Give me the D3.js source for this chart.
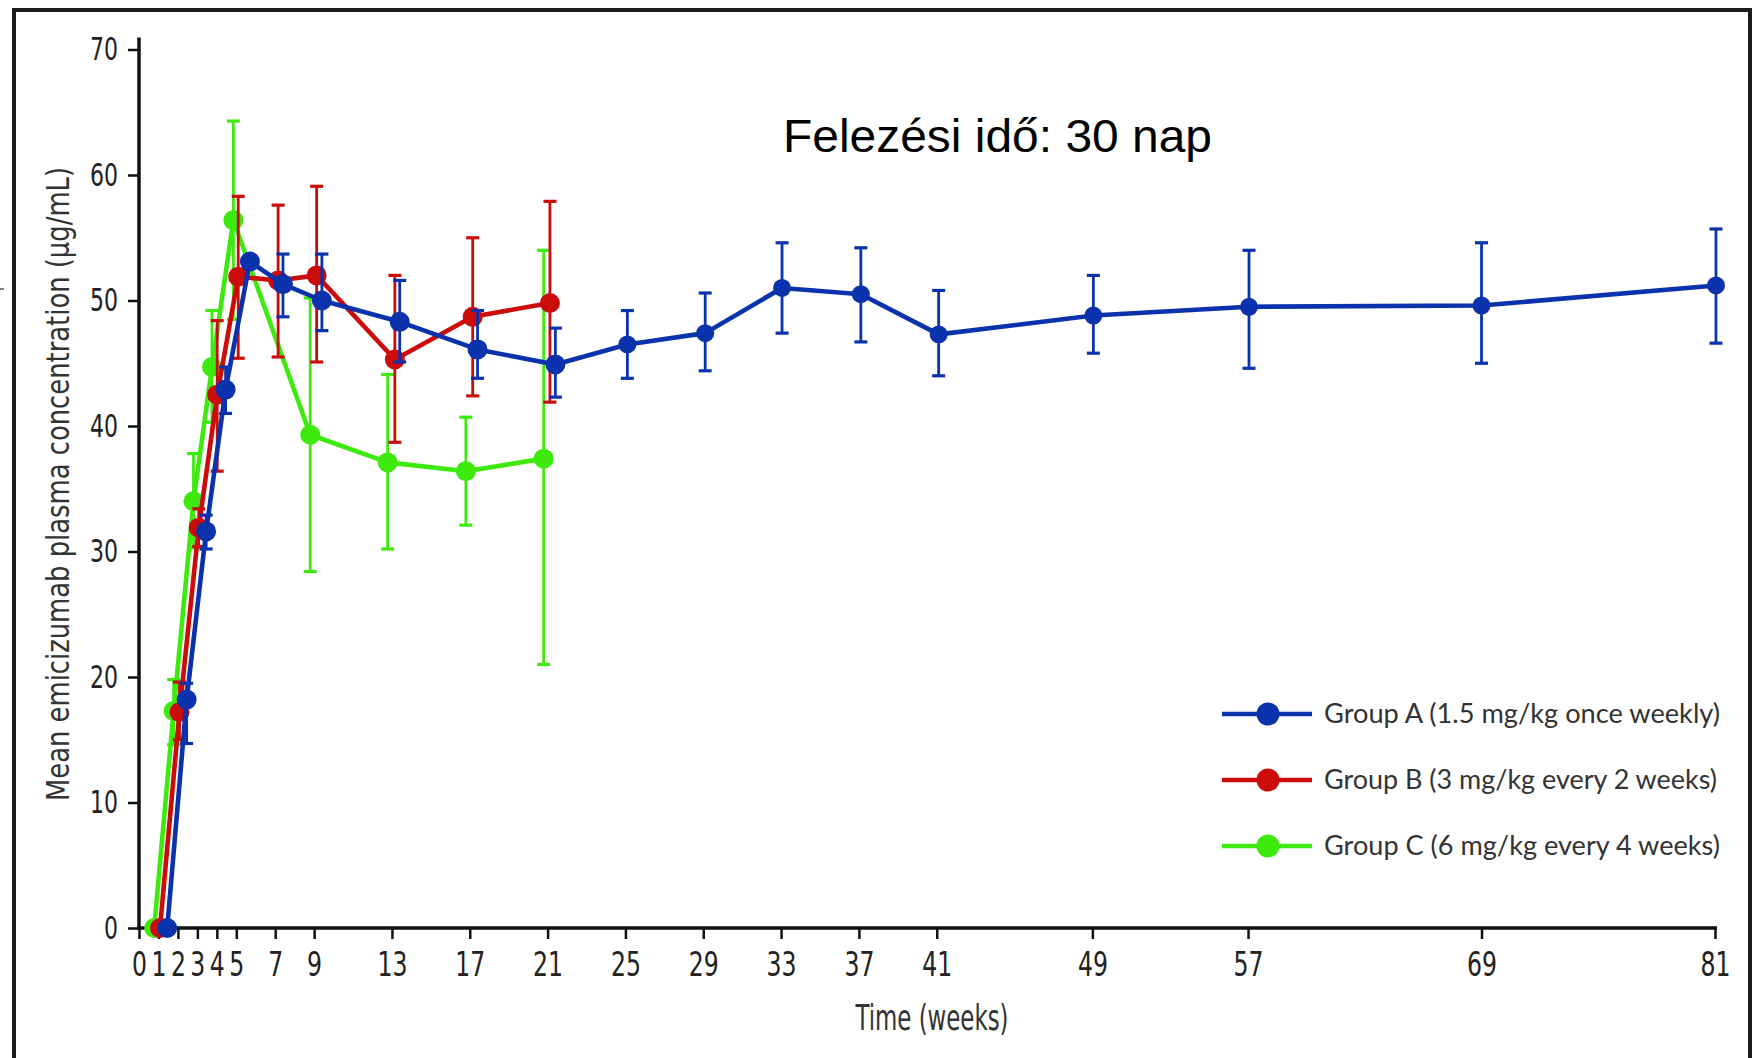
<!DOCTYPE html>
<html>
<head>
<meta charset="utf-8">
<script src="https://cdn.jsdelivr.net/npm/d3@7"></script>
<style>
  html, body { margin: 0; padding: 0; background: #ffffff; }
  svg { display: block; }
</style>
</head>
<body>
<svg id="chart" width="1755" height="1058"></svg>
<script>
// ---------------- DATA ----------------
const xTickValues = [0, 1, 2, 3, 4, 5, 7, 9, 13, 17, 21, 25, 29, 33, 37, 41, 49, 57, 69, 81];
const yTickValues = [0, 10, 20, 30, 40, 50, 60, 70];

const seriesNames = [
  "Group A (1.5 mg/kg once weekly)",
  "Group B (3 mg/kg every 2 weeks)",
  "Group C (6 mg/kg every 4 weeks)"
];

// Group A (plotted week positions as drawn, slightly dodged)
const weeksA = [1.45, 2.45, 3.45, 4.45, 5.7, 7.4, 9.4, 13.4, 17.4, 21.4, 25.1, 29.1, 33.05, 37.1, 41.1, 49.05, 57.05, 69.0, 81.05];
const meanA  = [0, 18.2, 31.6, 42.9, 53.1, 51.3, 50.0, 48.3, 46.1, 44.9, 46.5, 47.4, 51.0, 50.5, 47.3, 48.8, 49.5, 49.6, 51.2];
const upperA = [null, 19.5, 32.9, 44.7, null, 53.7, 53.7, 51.6, 49.2, 47.8, 49.2, 50.6, 54.6, 54.2, 50.8, 52.0, 54.0, 54.6, 55.7];
const lowerA = [null, 14.7, 30.2, 41.0, null, 48.7, 47.6, 45.1, 43.8, 42.3, 43.8, 44.4, 47.4, 46.7, 44.0, 45.8, 44.6, 45.0, 46.6];

// Group B
const weeksB = [1.08, 2.08, 3.07, 4.02, 5.1, 7.15, 9.13, 13.15, 17.15, 21.12];
const meanB  = [0, 17.2, 31.9, 42.5, 51.9, 51.6, 52.0, 45.3, 48.7, 49.8];
const upperB = [null, 19.6, 33.4, 48.4, 58.3, 57.6, 59.1, 52.0, 55.0, 57.9];
const lowerB = [null, 15.0, 30.4, 36.4, 45.4, 45.5, 45.1, 38.7, 42.4, 41.9];

// Group C
const weeksC = [0.78, 1.78, 2.8, 3.75, 4.85, 8.8, 12.78, 16.8, 20.8];
const meanC  = [0, 17.3, 34.0, 44.7, 56.4, 39.3, 37.1, 36.4, 37.4];
const upperC = [null, 19.8, 37.8, 49.2, 64.3, 50.2, 44.1, 40.7, 54.0];
const lowerC = [null, 14.6, 30.3, 40.3, 48.5, 28.4, 30.2, 32.1, 21.0];

const titleText = "Felezési idő: 30 nap";
const xLabelText = "Time (weeks)";
const yLabelText = "Mean emicizumab plasma concentration (\u03bcg/mL)";

// ---------------- DRAW ----------------
const svg = d3.select("#chart");
svg.append("rect").attr("x", 0).attr("y", 0).attr("width", 1755).attr("height", 1058).attr("fill", "#ffffff");

const x = d3.scaleLinear().domain([0, 81]).range([139, 1715]);
const y = d3.scaleLinear().domain([0, 70]).range([928, 49.5]);

const colors = ["#0b32ad", "#cc0b0b", "#3eea0e"];
const narrow = "'Liberation Sans Narrow', 'DejaVu Sans Condensed', 'Liberation Sans', sans-serif";

// Frame
const frame = svg.append("g").attr("stroke", "#1c1c1c").attr("stroke-width", 4).attr("fill", "none");
frame.append("line").attr("x1", 14).attr("x2", 14).attr("y1", 8).attr("y2", 1058);
frame.append("line").attr("x1", 12).attr("x2", 1752).attr("y1", 10).attr("y2", 10);
frame.append("line").attr("x1", 1750).attr("x2", 1750).attr("y1", 8).attr("y2", 1058);
// tiny stray mark at left edge
svg.append("line").attr("x1", 0).attr("x2", 4).attr("y1", 289).attr("y2", 289).attr("stroke", "#555").attr("stroke-width", 1.5);

// Axes
const xAxis = d3.axisBottom(x).tickValues(xTickValues).tickSize(11).tickSizeOuter(0).tickPadding(14);
const gx = svg.append("g").attr("transform", `translate(0,${y(0)})`).call(xAxis);
gx.select(".domain").remove();
gx.selectAll(".tick line").attr("stroke", "#111").attr("stroke-width", 2.5);
gx.selectAll(".tick text")
  .attr("font-family", narrow).attr("font-size", 33).attr("fill", "#222")
  .attr("dy", "0.71em")
  .attr("textLength", d => String(d).length * 15)
  .attr("lengthAdjust", "spacingAndGlyphs");

const yAxis = d3.axisLeft(y).tickValues(yTickValues).tickSize(11).tickSizeOuter(0).tickPadding(10);
const gy = svg.append("g").attr("transform", `translate(${x(0)},0)`).call(yAxis);
gy.select(".domain").remove();
gy.selectAll(".tick line").attr("stroke", "#111").attr("stroke-width", 2.5);
gy.selectAll(".tick text")
  .attr("font-family", narrow).attr("font-size", 32).attr("fill", "#222")
  .attr("textLength", d => String(d).length * 14)
  .attr("lengthAdjust", "spacingAndGlyphs");

// axis lines
svg.append("line").attr("x1", x(0)).attr("x2", x(0)).attr("y1", y(70) - 12).attr("y2", y(0) + 2)
  .attr("stroke", "#111").attr("stroke-width", 3.5);
svg.append("line").attr("x1", x(0) - 2).attr("x2", x(81) + 2).attr("y1", y(0)).attr("y2", y(0))
  .attr("stroke", "#111").attr("stroke-width", 3.5);

// Axis labels
svg.append("text").attr("x", 932).attr("y", 1030).attr("text-anchor", "middle")
  .attr("font-family", narrow).attr("font-size", 36).attr("fill", "#333")
  .attr("textLength", 153).attr("lengthAdjust", "spacingAndGlyphs")
  .text(xLabelText);
svg.append("text").attr("transform", "translate(69,484) rotate(-90)").attr("text-anchor", "middle")
  .attr("font-family", narrow).attr("font-size", 32).attr("fill", "#333")
  .attr("textLength", 634).attr("lengthAdjust", "spacingAndGlyphs")
  .text(yLabelText);

// Title
svg.append("text").attr("x", 783).attr("y", 152)
  .attr("font-family", "'Liberation Sans', Arial, sans-serif").attr("font-size", 46).attr("fill", "#000")
  .attr("textLength", 429).attr("lengthAdjust", "spacingAndGlyphs")
  .text(titleText);

// Series
const series = [
  { weeks: weeksC, mean: meanC, upper: upperC, lower: lowerC, color: colors[2] },
  { weeks: weeksB, mean: meanB, upper: upperB, lower: lowerB, color: colors[1] },
  { weeks: weeksA, mean: meanA, upper: upperA, lower: lowerA, color: colors[0] }
];

const line = d3.line().x(d => x(d.w)).y(d => y(d.m));

series.forEach(s => {
  const pts = s.weeks.map((w, i) => ({ w, m: s.mean[i], u: s.upper[i], l: s.lower[i] }));
  const g = svg.append("g");
  // error bars
  const eb = g.append("g").attr("stroke", s.color).attr("stroke-width", 2.8).attr("fill", "none");
  pts.filter(p => p.u != null && p.l != null).forEach(p => {
    eb.append("line").attr("x1", x(p.w)).attr("x2", x(p.w)).attr("y1", y(p.u)).attr("y2", y(p.l));
    eb.append("line").attr("x1", x(p.w) - 6.5).attr("x2", x(p.w) + 6.5).attr("y1", y(p.u)).attr("y2", y(p.u)).attr("stroke-width", 3.2);
    eb.append("line").attr("x1", x(p.w) - 6.5).attr("x2", x(p.w) + 6.5).attr("y1", y(p.l)).attr("y2", y(p.l)).attr("stroke-width", 3.2);
  });
  g.append("path").datum(pts).attr("d", line).attr("fill", "none")
    .attr("stroke", s.color).attr("stroke-width", 4.6).attr("stroke-linejoin", "round");
  g.selectAll("circle").data(pts).join("circle")
    .attr("cx", p => x(p.w)).attr("cy", p => y(p.m))
    .attr("r", p => p.w < 22 ? 10 : 9)
    .attr("fill", s.color);
});

// Legend
const legendRows = [714, 780, 846];
const legendLens = [396, 393, 396];
seriesNames.forEach((name, i) => {
  const g = svg.append("g").attr("transform", `translate(0,${legendRows[i]})`);
  g.append("line").attr("x1", 1222).attr("x2", 1312).attr("y1", 0).attr("y2", 0)
    .attr("stroke", colors[i]).attr("stroke-width", 4.6);
  g.append("circle").attr("cx", 1268).attr("cy", 0).attr("r", 11.5).attr("fill", colors[i]);
  g.append("text").attr("x", 1324).attr("y", 0).attr("dy", "0.35em")
    .attr("font-family", "Lato, 'Open Sans', sans-serif").attr("font-size", 27).attr("fill", "#333")
    .attr("textLength", legendLens[i]).attr("lengthAdjust", "spacingAndGlyphs")
    .text(name);
});
</script>
</body>
</html>
